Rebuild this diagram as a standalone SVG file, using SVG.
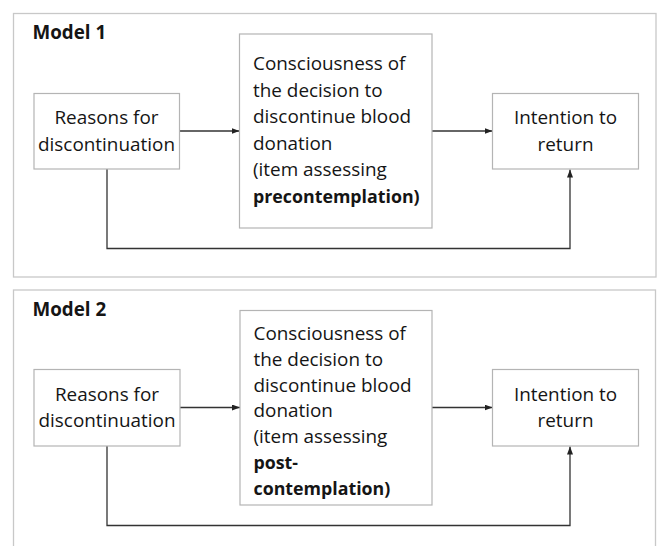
<svg xmlns="http://www.w3.org/2000/svg" width="659" height="546" viewBox="0 0 659 546">
<style>
.panel{fill:#ffffff;stroke:#c8c8c8;stroke-width:1.3}
.box{fill:#ffffff;stroke:#b4b4b4;stroke-width:1.2}
.t{font-family:"Open Sans","Liberation Sans",sans-serif;font-size:18.9px;fill:#151515}
.c{text-anchor:middle}
.b{font-weight:bold;font-size:17.8px}
.lab{font-family:"Open Sans","Liberation Sans",sans-serif;font-size:18.8px;font-weight:bold;fill:#151515}
.con{fill:none;stroke:#333333;stroke-width:1.3}
</style>
<defs>
<marker id="ah" viewBox="0 0 8 6" refX="8" refY="3" markerWidth="8" markerHeight="6" markerUnits="userSpaceOnUse" orient="auto">
<path d="M0,0 L8,3 L0,6 Z" fill="#222222"/>
</marker>
</defs>
<rect width="659" height="546" fill="#ffffff"/>
<g id="panel1">
<rect class="panel" x="13.5" y="13.5" width="642.5" height="263.5"/>
<text class="lab" x="32.5" y="38.5">Model 1</text>
</g>
<g id="panel2">
<rect class="panel" x="13.5" y="290" width="642" height="280"/>
<text class="lab" x="32.5" y="315.5">Model 2</text>
</g>
<g id="connectors">
<line class="con" x1="179.5" y1="131" x2="239.5" y2="131" marker-end="url(#ah)"/>
<line class="con" x1="432" y1="131" x2="492.5" y2="131" marker-end="url(#ah)"/>
<polyline class="con" points="107,169 107,248.5 570,248.5 570,169.5" marker-end="url(#ah)"/>
<line class="con" x1="180" y1="407.5" x2="240" y2="407.5" marker-end="url(#ah)"/>
<line class="con" x1="432" y1="407.5" x2="492.5" y2="407.5" marker-end="url(#ah)"/>
<polyline class="con" points="107,446 107,525.5 570,525.5 570,446.5" marker-end="url(#ah)"/>
</g>
<g id="m1-reasons">
<rect class="box" x="34" y="93.5" width="145.5" height="75.5"/>
<text class="t c" x="106.5" y="124">Reasons for</text>
<text class="t c" x="106.5" y="150.7">discontinuation</text>
</g>
<g id="m1-consciousness">
<rect class="box" x="239.5" y="34" width="192.5" height="194"/>
<text class="t" x="253" y="70">Consciousness of</text>
<text class="t" x="253" y="96.5">the decision to</text>
<text class="t" x="253" y="123">discontinue blood</text>
<text class="t" x="253" y="149.5">donation</text>
<text class="t" x="253" y="176">(item assessing</text>
<text class="t b" x="253" y="202.5">precontemplation)</text>
</g>
<g id="m1-intention">
<rect class="box" x="492.5" y="93.5" width="146" height="75.5"/>
<text class="t c" x="565.5" y="124">Intention to</text>
<text class="t c" x="565.5" y="150.7">return</text>
</g>
<g id="m2-reasons">
<rect class="box" x="34" y="369.5" width="146" height="76.5"/>
<text class="t c" x="107" y="400.5">Reasons for</text>
<text class="t c" x="107" y="427.2">discontinuation</text>
</g>
<g id="m2-consciousness">
<rect class="box" x="240" y="310.5" width="192" height="194.5"/>
<text class="t" x="253.5" y="340">Consciousness of</text>
<text class="t" x="253.5" y="365.8">the decision to</text>
<text class="t" x="253.5" y="391.6">discontinue blood</text>
<text class="t" x="253.5" y="417.4">donation</text>
<text class="t" x="253.5" y="443.2">(item assessing</text>
<text class="t b" x="253.5" y="469">post-</text>
<text class="t b" x="253.5" y="494.8">contemplation)</text>
</g>
<g id="m2-intention">
<rect class="box" x="492.5" y="369.5" width="146" height="76.5"/>
<text class="t c" x="565.5" y="400.5">Intention to</text>
<text class="t c" x="565.5" y="427.2">return</text>
</g>
</svg>
